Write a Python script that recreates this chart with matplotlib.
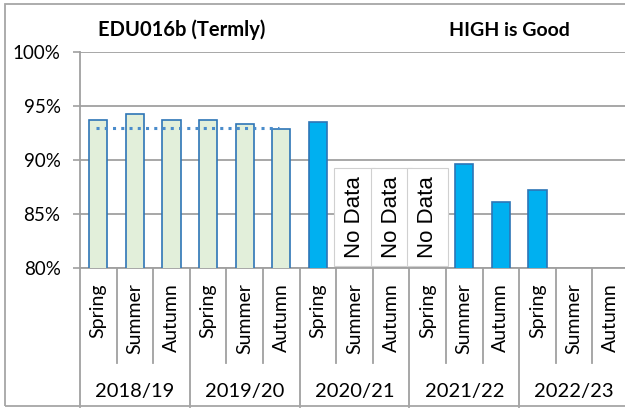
import numpy as np
import matplotlib
matplotlib.use("Agg")
import matplotlib.pyplot as plt
from matplotlib.patches import Rectangle

plt.rcParams['font.family'] = ['Lato', 'DejaVu Sans']

# data
years = ['2018/19', '2019/20', '2020/21', '2021/22', '2022/23']
terms = ['Spring', 'Summer', 'Autumn']
values = [93.7, 94.3, 93.7, 93.7, 93.3, 92.9,
          93.5, np.nan, np.nan, np.nan, 89.6, 86.1, 87.2, np.nan, np.nan]
# first two years are the baseline (light bars), later years are dark
light_count = 6
avg_line = [93.0] * 6
no_data_idx = [7, 8, 9]

ytick_vals = [80, 85, 90, 95, 100]
ytick_labels = ['80%', '85%', '90%', '95%', '100%']

edge_col = '#2E75B6'
light_col = '#E2EFDA'
dark_col = '#00B0F0'
grid_col = '#A0A0A0'

fig = plt.figure(figsize=(6.25, 4.08), dpi=100)
ax = fig.add_axes([80 / 625, 1 - 268 / 408, 549 / 625, 216 / 408])

n = len(values)
x = np.arange(n)
colors = [light_col if i < light_count else dark_col for i in range(n)]
ax.bar(x, values, width=0.5, bottom=0, color=colors, edgecolor=edge_col,
       linewidth=1.2, zorder=3)
ax.plot(np.arange(len(avg_line)) - 0.05, avg_line, linestyle=(0, (1, 1.7)),
        color='#4A8CCB', linewidth=2.2, zorder=4)

# "No Data" labels in white boxes
for k, i in enumerate(no_data_idx):
    ax.add_patch(Rectangle((i - 0.56, 80.2), 1.12, 9.1, facecolor='white',
                           edgecolor='#D0D0D0', linewidth=0.8,
                           zorder=5 + k))
    ax.text(i, 84.75, 'No Data', rotation=90, ha='center', va='center',
            fontsize=16, family=['Liberation Sans', 'DejaVu Sans'],
            zorder=5.5 + k)

ax.set_xlim(-0.5, n - 0.5)
ax.set_ylim(80, 100)
ax.set_yticks(ytick_vals)
ax.set_yticklabels(ytick_labels, fontsize=13.5)
ax.yaxis.grid(True, color=grid_col, linewidth=1.3, zorder=0)
ax.tick_params(axis='y', length=5, width=1.2, color=grid_col, pad=9)
ax.set_xticks([])
for s in ['top', 'right', 'bottom']:
    ax.spines[s].set_visible(False)
ax.spines['left'].set_color(grid_col)
ax.spines['left'].set_linewidth(1.3)
ax.axhline(80, color=grid_col, linewidth=1.3, zorder=2, clip_on=False)

# category labels and separators below the axis
trans = ax.get_xaxis_transform()
for i in range(n):
    ax.text(i, -0.07, terms[i % 3], rotation=90, ha='center', va='top',
            fontsize=14, transform=trans)
for b in range(n + 1):
    edge = b - 0.5
    bottom = -0.645 if b % 3 == 0 else -0.44
    ax.plot([edge, edge], [0, bottom], color=grid_col, linewidth=1.3,
            transform=trans, clip_on=False)
for g, yr in enumerate(years):
    ax.text(g * 3 + 1, -0.572, yr, ha='center', va='center', fontsize=14.5,
            transform=trans)

# titles
fig.text(182 / 625, 1 - 30 / 408, 'EDU016b (Termly)', ha='center', va='center',
         fontsize=14.5, fontweight='bold')
fig.text(509 / 625, 1 - 30 / 408, 'HIGH is Good', ha='center', va='center',
         fontsize=14, fontweight='bold')

# outer border
fig.patches.append(Rectangle((5 / 625, 1 - 406 / 408), 640 / 625, 402 / 408,
                             transform=fig.transFigure, fill=False,
                             edgecolor='#A6A6A6', linewidth=1.3))

fig.savefig('out.png', dpi=100)
